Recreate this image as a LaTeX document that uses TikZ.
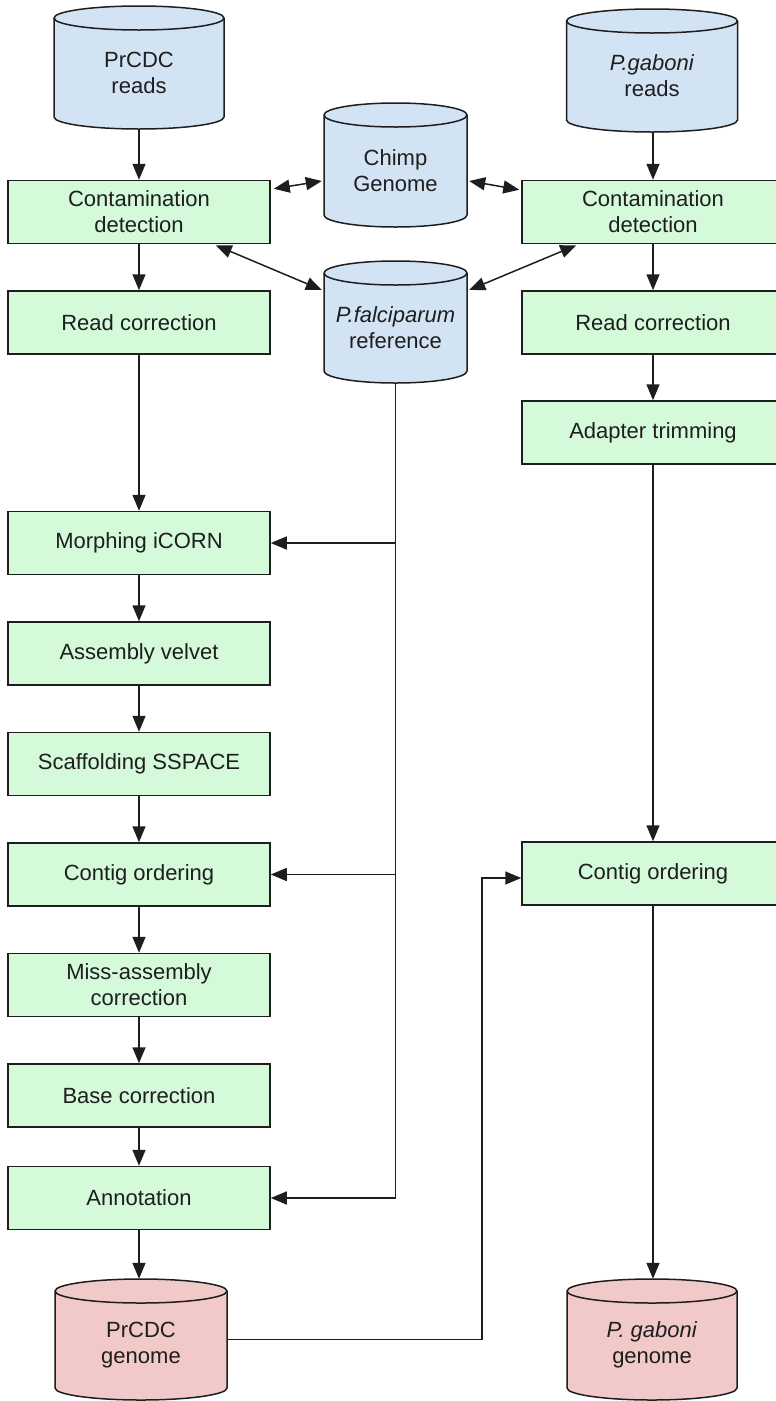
\documentclass[tikz,border=0pt]{standalone}
\usepackage{fontspec}
\setmainfont{Liberation Sans}
\usetikzlibrary{arrows.meta,calc}
\definecolor{cylblue}{HTML}{D2E3F3}
\definecolor{boxgreen}{HTML}{D4FADA}
\definecolor{cylred}{HTML}{F1C9C9}
\definecolor{ink}{HTML}{1E1E1E}
\newcommand{\cylshape}[5]{% fill, cx, ytop, ybot, halfwidth
  \filldraw[fill=#1, cylline] (#2-#5, #3+12) -- (#2-#5, #4-12)
    arc[start angle=180, end angle=0, x radius=#5, y radius=12]
    -- (#2+#5, #3+12)
    arc[start angle=0, end angle=-180, x radius=#5, y radius=12] -- cycle;
  \draw[cylline] (#2-#5, #3+12) arc[start angle=180, end angle=0, x radius=#5, y radius=12];
}
\begin{document}
\begin{tikzpicture}[x=1pt, y=-1pt,
  font=\fontsize{22}{26}\selectfont,
  box/.style={draw=ink, fill=boxgreen, line width=1.5pt, minimum width=262pt,
    minimum height=63pt, inner sep=0pt, align=center, text=ink},
  cylline/.style={draw=ink, line width=1.5pt},
  cylbox/.style={inner sep=0pt, draw=none},
  cyltext/.style={align=center, text=ink, inner sep=0pt},
  arr/.style={-{Triangle[length=16pt,width=13pt]}, line width=1.5pt, draw=ink},
  darr/.style={{Triangle[length=16pt,width=13pt]}-{Triangle[length=16pt,width=13pt]}, line width=1.5pt, draw=ink}]
\useasboundingbox (0,0) rectangle (776,1401);
\clip (0,0) rectangle (776,1401);

% cylinders
\cylshape{cylblue}{139}{6}{129}{85}
\node[cylbox, minimum width=170pt, minimum height=123pt] (reads1) at (139,67.5) {};
\node[cyltext] (reads1t) at (139,73) {PrCDC\\reads};

\cylshape{cylblue}{652}{9}{132}{85.5}
\node[cylbox, minimum width=171pt, minimum height=123pt] (reads2) at (652,70.5) {};
\node[cyltext] (reads2t) at (652,76) {\textit{P.gaboni}\\reads};

\cylshape{cylblue}{395.5}{103}{227}{71.5}
\node[cylbox, minimum width=143pt, minimum height=124pt] (chimp) at (395.5,165) {};
\node[cyltext] (chimpt) at (395.5,171) {Chimp\\Genome};

\cylshape{cylblue}{395.5}{261}{383}{71.5}
\node[cylbox, minimum width=143pt, minimum height=122pt] (pfal) at (395.5,322) {};
\node[cyltext] (pfalt) at (395.5,328) {\textit{P.falciparum}\\reference};

\cylshape{cylred}{141}{1279}{1400}{86}
\node[cylbox, minimum width=172pt, minimum height=121pt] (gen1) at (141,1339.5) {};
\node[cyltext] (gen1t) at (141,1345) {PrCDC\\genome};

\cylshape{cylred}{652}{1279}{1400}{85}
\node[cylbox, minimum width=170pt, minimum height=121pt] (gen2) at (652,1339.5) {};
\node[cyltext] (gen2t) at (652,1345) {\textit{P. gaboni}\\genome};

% left column
\node[box] (c1) at (139,212) {Contamination\\detection};
\node[box] (r1) at (139,322.5) {Read correction};
\node[box] (m) at (139,543) {Morphing iCORN};
\node[box] (av) at (139,653.5) {Assembly velvet};
\node[box] (sc) at (139,764) {Scaffolding SSPACE};
\node[box] (co) at (139,874.5) {Contig ordering};
\node[box] (ma) at (139,985) {Miss-assembly\\correction};
\node[box] (bc) at (139,1095.5) {Base correction};
\node[box] (an) at (139,1198) {Annotation};

% right column
\node[box] (c2) at (653,212) {Contamination\\detection};
\node[box] (r2) at (653,322.5) {Read correction};
\node[box] (adt) at (653,432.5) {Adapter trimming};
\node[box] (co2) at (653,873.5) {Contig ordering};

% left chain
\draw[arr] (reads1.south) -- (c1.north);
\draw[arr] (c1.south) -- (r1.north);
\draw[arr] (r1.south) -- (m.north);
\draw[arr] (m.south) -- (av.north);
\draw[arr] (av.south) -- (sc.north);
\draw[arr] (sc.south) -- (co.north);
\draw[arr] (co.south) -- (ma.north);
\draw[arr] (ma.south) -- (bc.north);
\draw[arr] (bc.south) -- (an.north);
\draw[arr] (an.south) -- (an.south |- gen1.north);

% right chain
\draw[arr] (reads2.south -| c2.north) -- (c2.north);
\draw[arr] (c2.south) -- (r2.north);
\draw[arr] (r2.south) -- (adt.north);
\draw[arr] (adt.south) -- (co2.north);
\draw[arr] (co2.south) -- (co2.south |- gen2.north);

% references
\draw[darr] ($(c1.north east)+(3,9)$) -- ($(chimp.west)+(-2,16)$);
\draw[darr] ($(chimp.east)+(2,16)$) -- ($(c2.north west)+(-2,10)$);
\draw[darr] ($(c1.south east)+(-55,1)$) -- ($(pfal.west)+(-2,-32)$);
\draw[darr] ($(c2.south west)+(55,1)$) -- ($(pfal.east)+(2,-32)$);

\draw[arr] (pfal.south) |- (an.east);
\draw[arr] (pfal.south |- m.east) -- (m.east);
\draw[arr] (pfal.south |- co.east) -- (co.east);

\coordinate (bend) at (482,878);
\draw[arr] (gen1.east) -| (bend) -- (bend -| co2.west);
\end{tikzpicture}
\end{document}
